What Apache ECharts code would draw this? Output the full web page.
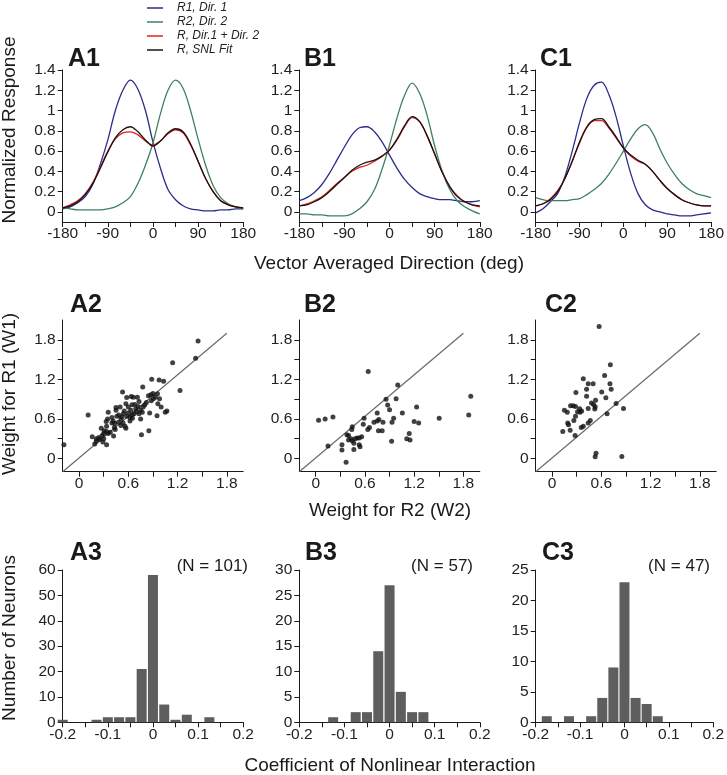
<!DOCTYPE html>
<html><head><meta charset="utf-8">
<script src="https://cdn.jsdelivr.net/npm/echarts@6/dist/echarts.min.js"></script>
<style>html,body{margin:0;padding:0;background:#fff}#c{width:727px;height:775px}</style>
</head><body><div id="c"></div>
<script>
// ---------- DATA ----------
const angles = [-180,-165,-150,-135,-120,-105,-90,-75,-60,-45,-30,-15,0,15,30,45,60,75,90,105,120,135,150,165,180];
const seriesNames = ['R1, Dir. 1', 'R2, Dir. 2', 'R, Dir.1 + Dir. 2', 'R, SNL Fit'];

const a1Blue  = [0.03,0.05,0.09,0.15,0.27,0.47,0.71,1.00,1.20,1.30,1.21,1.00,0.69,0.43,0.22,0.12,0.06,0.03,0.02,0.01,0.01,0.02,0.02,0.03,0.03];
const a1Green = [0.04,0.03,0.02,0.02,0.02,0.02,0.03,0.05,0.09,0.15,0.28,0.46,0.68,0.97,1.20,1.30,1.22,1.00,0.72,0.46,0.26,0.14,0.08,0.05,0.03];
const a1Red   = [0.04,0.07,0.11,0.18,0.29,0.44,0.60,0.72,0.78,0.79,0.76,0.70,0.66,0.70,0.77,0.81,0.78,0.66,0.50,0.33,0.20,0.11,0.07,0.05,0.04];
const a1Black = [0.04,0.06,0.10,0.17,0.28,0.43,0.59,0.73,0.81,0.84,0.79,0.71,0.65,0.70,0.78,0.82,0.79,0.67,0.50,0.33,0.20,0.11,0.07,0.05,0.04];

const b1Blue  = [0.11,0.14,0.19,0.27,0.38,0.51,0.64,0.76,0.83,0.84,0.79,0.69,0.56,0.43,0.32,0.24,0.18,0.15,0.13,0.12,0.12,0.11,0.10,0.10,0.11];
const b1Green = [-0.02,-0.02,-0.03,-0.03,-0.04,-0.04,-0.04,-0.02,0.03,0.10,0.22,0.42,0.66,0.93,1.15,1.27,1.17,0.95,0.65,0.40,0.22,0.11,0.05,0.01,-0.02];
const b1Red   = [0.06,0.08,0.11,0.15,0.21,0.28,0.34,0.40,0.44,0.46,0.50,0.55,0.61,0.71,0.84,0.93,0.89,0.75,0.57,0.39,0.25,0.16,0.10,0.07,0.05];
const b1Black = [0.06,0.07,0.10,0.14,0.20,0.27,0.34,0.41,0.46,0.49,0.51,0.55,0.61,0.72,0.85,0.94,0.89,0.75,0.57,0.39,0.25,0.15,0.10,0.07,0.06];

const c1Blue  = [-0.01,0.03,0.10,0.18,0.35,0.60,0.88,1.12,1.25,1.28,1.16,0.94,0.65,0.38,0.18,0.07,0.02,0.00,-0.02,-0.03,-0.04,-0.04,-0.03,-0.02,-0.01];
const c1Green = [0.14,0.12,0.11,0.11,0.11,0.12,0.13,0.17,0.22,0.28,0.37,0.48,0.60,0.72,0.82,0.86,0.78,0.62,0.48,0.37,0.28,0.22,0.18,0.16,0.14];
const c1Red   = [0.06,0.08,0.13,0.21,0.33,0.50,0.68,0.83,0.90,0.90,0.83,0.73,0.63,0.55,0.50,0.47,0.40,0.31,0.23,0.17,0.12,0.09,0.07,0.06,0.06];
const c1Black = [0.06,0.08,0.12,0.20,0.33,0.50,0.69,0.84,0.91,0.92,0.84,0.74,0.63,0.56,0.51,0.47,0.40,0.31,0.23,0.17,0.12,0.09,0.07,0.06,0.06];

// scatter points: [W2, W1]
const a2Points = [[1.45,1.78],[1.42,1.52],[1.14,1.45],[1.23,1.03],
 [0.885,1.20],[0.975,1.19],[1.03,1.17],[0.775,1.085],[0.53,1.01],
 [0.58,0.925],[0.635,0.94],[0.71,0.93],[0.875,0.965],[0.90,0.985],[0.845,0.95],[0.955,0.98],[0.98,0.905],[0.88,0.875],[0.96,0.83],[1.0,0.78],[1.07,0.72],[1.05,0.70],[0.86,0.69],[0.95,0.65],
 [0.80,0.81],[0.78,0.78],[0.73,0.865],[0.68,0.82],[0.645,0.815],[0.69,0.755],[0.63,0.73],[0.60,0.69],[0.54,0.68],[0.58,0.64],[0.65,0.61],[0.75,0.60],[0.73,0.68],[0.67,0.68],
 [0.45,0.775],[0.45,0.73],[0.355,0.70],[0.485,0.66],[0.46,0.64],[0.415,0.57],[0.48,0.55],[0.536,0.54],[0.56,0.49],[0.57,0.46],[0.51,0.50],[0.435,0.53],[0.347,0.60],[0.33,0.56],[0.335,0.49],[0.27,0.46],[0.305,0.42],[0.335,0.41],[0.355,0.38],[0.42,0.34],[0.28,0.35],[0.25,0.29],[0.29,0.25],[0.335,0.21],[0.21,0.30],[0.16,0.33],[0.21,0.26],[0.19,0.22],[0.11,0.66],[-0.185,0.21],[0.76,0.36],[0.85,0.42],
 [0.50,0.78],[0.60,0.78],[0.55,0.72],[0.51,0.60],[0.40,0.54],[0.43,0.47],[0.38,0.40],[0.645,0.66],[0.70,0.71],[0.75,0.73],[0.82,0.85],[0.905,0.905],[0.62,0.57],[0.40,0.62],[0.24,0.32],[0.30,0.30],[0.66,0.93],[0.93,0.93],[0.52,0.63],[0.57,0.83],[0.30,0.38],[0.44,0.44],[0.72,0.79],[0.77,0.70],[0.62,0.62]];

const b2Points = [[0.64,1.32],[1.0,1.115],[1.89,0.945],[1.865,0.66],[1.505,0.61],[1.23,0.78],[1.20,0.56],[1.255,0.54],[1.056,0.69],[0.98,0.905],[0.857,0.90],[0.877,0.81],[0.90,0.74],[0.95,0.61],[0.93,0.55],[0.925,0.26],[1.11,0.30],[1.15,0.28],[1.14,0.38],
 [0.75,0.69],[0.77,0.59],[0.75,0.57],[0.71,0.55],[0.82,0.55],[0.765,0.42],[0.81,0.42],[0.655,0.47],[0.635,0.44],[0.58,0.52],[0.59,0.61],[0.445,0.48],[0.38,0.36],[0.40,0.35],[0.40,0.28],[0.445,0.27],[0.48,0.30],[0.505,0.31],[0.53,0.31],[0.56,0.33],[0.465,0.23],[0.465,0.135],[0.53,0.21],[0.54,0.18],[0.32,0.21],[0.32,0.13],[0.37,-0.055],[0.15,0.19],[0.035,0.58],[0.115,0.60],[0.21,0.63],[0.44,0.44],[0.43,0.30]];

const c2Points = [[0.573,2.0],[0.71,1.42],[0.64,1.26],[0.38,1.21],[0.44,1.135],[0.50,1.135],[0.705,1.135],[0.72,1.05],[0.42,1.05],[0.29,1.0],[0.605,1.01],[0.42,0.945],[0.655,0.92],[0.53,0.885],[0.48,0.84],[0.505,0.82],[0.525,0.785],[0.52,0.75],[0.44,0.76],[0.78,0.835],[0.87,0.76],[0.67,0.68],
 [0.225,0.80],[0.257,0.80],[0.285,0.79],[0.335,0.755],[0.34,0.70],[0.31,0.71],[0.15,0.73],[0.185,0.70],[0.285,0.64],[0.265,0.575],[0.19,0.54],[0.20,0.51],[0.22,0.43],[0.13,0.41],[0.28,0.35],[0.355,0.47],[0.38,0.49],[0.44,0.54],[0.465,0.575],[0.535,0.08],[0.525,0.025],[0.85,0.03],[0.36,0.72]];

const identityLine = [[-0.2,-0.2],[1.8,1.9]];

// histograms: bin centres and counts
const a3Centers = [-0.2,-0.125,-0.1,-0.075,-0.05,-0.025,0,0.025,0.05,0.075,0.125];
const a3Counts  = [1,1,2,2,2,21,58,7,1,3,2];
const b3Centers = [-0.125,-0.075,-0.05,-0.025,0,0.025,0.05,0.075];
const b3Counts  = [1,2,2,14,27,6,2,2];
const c3Centers = [-0.175,-0.125,-0.075,-0.05,-0.025,0,0.025,0.05,0.075];
const c3Counts  = [1,1,1,4,9,23,4,3,1];

// tick values / labels
const topXTicks = [-180,-135,-90,-45,0,45,90,135,180];
const topXLabels = [-180,-90,0,90,180];
const topYLabels = [0,0.2,0.4,0.6,0.8,1,1.2,1.4];
const wTicks = [0,0.3,0.6,0.9,1.2,1.5,1.8];
const wLabels = [0,0.6,1.2,1.8];
const histXTicks = [-0.2,-0.15,-0.1,-0.05,0,0.05,0.1,0.15,0.2];
const histXLabels = [-0.2,-0.1,0,0.1,0.2];
const a3YLabels = [0,10,20,30,40,50,60];
const b3YLabels = [0,5,10,15,20,25,30];
const c3YLabels = [0,5,10,15,20,25];
const nLabels = ['(N = 101)', '(N = 57)', '(N = 47)'];
const panelLabels = ['A1','B1','C1','A2','B2','C2','A3','B3','C3'];

// ---------- CHART ----------
const FONT = "'Liberation Sans', Arial, Helvetica, sans-serif";
const AX = '#1a1a1a';
const colLeft = [62.7, 299.3, 535.7];
const colW = 180.5;
const rowTop = [70, 320, 570];
const rowH = [152, 151.7, 152.3];

const grids = [];
for (let r = 0; r < 3; r++) for (let c = 0; c < 3; c++)
  grids.push({left: colLeft[c], top: rowTop[r], width: colW, height: rowH[r], containLabel: false});

function fmt(v){ const s = String(+(+v).toFixed(3)); return s === '-0' ? '0' : s; }
function axis(gridIndex, min, max, ticks, labels, isY){
  return {
    type: 'value', gridIndex, min, max,
    axisLine: {show: true, onZero: false, lineStyle: {color: AX, width: 1}},
    axisTick: {show: true, length: 5, lineStyle: {color: AX, width: 1}, customValues: ticks},
    axisLabel: {show: true, color: '#222', fontSize: 15.5, fontFamily: FONT, margin: isY ? 7 : 4, customValues: labels, formatter: fmt},
    splitLine: {show: false}
  };
}
const xAxes = [], yAxes = [];
for (let c = 0; c < 3; c++) { xAxes.push(axis(c, -180, 180, topXTicks, topXLabels, false)); yAxes.push(axis(c, -0.1, 1.4, topYLabels, topYLabels, true)); }
for (let c = 0; c < 3; c++) { xAxes.push(axis(3+c, -0.2, 2.0, wTicks, wLabels, false)); yAxes.push(axis(3+c, -0.2, 2.1, wTicks, wLabels, true)); }
const histY = [[60,a3YLabels],[30,b3YLabels],[25,c3YLabels]];
for (let c = 0; c < 3; c++) { xAxes.push(axis(6+c, -0.2, 0.2, histXTicks, histXLabels, false)); yAxes.push(axis(6+c, 0, histY[c][0], histY[c][1], histY[c][1], true)); }

const colors = ['#2a2d8a', '#3f8060', '#e4201e', '#141414'];
const series = [];
const topData = [[a1Blue,a1Green,a1Red,a1Black],[b1Blue,b1Green,b1Red,b1Black],[c1Blue,c1Green,c1Red,c1Black]];
for (let c = 0; c < 3; c++) {
  topData[c].forEach((vals, k) => {
    series.push({type: 'line', name: seriesNames[k], xAxisIndex: c, yAxisIndex: c,
      data: angles.map((a, i) => [a, vals[i]]), smooth: 0.35, showSymbol: false, symbol: 'none',
      lineStyle: {color: colors[k], width: 1.3}, itemStyle: {color: colors[k]}, z: 2 + k, silent: true});
  });
}
const scat = [a2Points, b2Points, c2Points];
for (let c = 0; c < 3; c++) {
  series.push({type: 'line', xAxisIndex: 3+c, yAxisIndex: 3+c, data: identityLine, symbol: 'none',
    lineStyle: {color: '#6a6a6a', width: 1.2}, silent: true, z: 1});
  series.push({type: 'scatter', xAxisIndex: 3+c, yAxisIndex: 3+c, data: scat[c], symbolSize: 5,
    itemStyle: {color: '#111'}, silent: true, z: 3});
}
const hist = [[a3Centers,a3Counts],[b3Centers,b3Counts],[c3Centers,c3Counts]];
for (let c = 0; c < 3; c++) {
  series.push({type: 'bar', xAxisIndex: 6+c, yAxisIndex: 6+c, barWidth: 10,
    data: hist[c][0].map((x, i) => [x, hist[c][1][i]]), itemStyle: {color: '#5e5e5e'}, silent: true, clip: true});
}

const graphic = [];
function txt(text, x, y, size, opts){
  graphic.push(Object.assign({type: 'text', x, y, silent: true,
    style: {text, fill: '#1a1a1a', font: (opts && opts.weight ? opts.weight + ' ' : '') + size + 'px ' + FONT,
      textAlign: (opts && opts.align) || 'left', textVerticalAlign: 'middle'}}, opts && opts.rot ? {rotation: opts.rot} : {}));
}
const plX = [[68,304,540],[70,304,545],[70,305,542]];
const plY = [59, 305, 553];
for (let r = 0; r < 3; r++) for (let c = 0; c < 3; c++) txt(panelLabels[r*3+c], plX[r][c], plY[r], 25, {weight: 'bold'});
const nX = [248, 473, 710];
for (let c = 0; c < 3; c++) txt(nLabels[c], nX[c], 566.5, 17, {align: 'right'});
txt('Normalized Response', 10, 130, 19, {align: 'center', rot: Math.PI/2});
txt('Vector Averaged Direction (deg)', 389, 264, 19, {align: 'center'});
txt('Weight for R1 (W1)', 10, 394, 19, {align: 'center', rot: Math.PI/2});
txt('Weight for R2 (W2)', 390, 511, 19, {align: 'center'});
txt('Number of Neurons', 10, 638, 19, {align: 'center', rot: Math.PI/2});
txt('Coefficient of Nonlinear Interaction', 390, 766, 19, {align: 'center'});

const option = {
  animation: false,
  backgroundColor: '#fff',
  textStyle: {fontFamily: FONT},
  grid: grids, xAxis: xAxes, yAxis: yAxes, series,
  legend: {data: seriesNames, orient: 'vertical', left: 147, top: 2, padding: 0, itemWidth: 16, itemHeight: 1.5, itemGap: 2,
    icon: 'rect', selectedMode: false,
    textStyle: {fontSize: 12, fontStyle: 'italic', color: '#222', fontFamily: FONT, padding: [0,0,0,9]}},
  graphic
};
const chart = echarts.init(document.getElementById('c'));
chart.setOption(option);
</script></body></html>
